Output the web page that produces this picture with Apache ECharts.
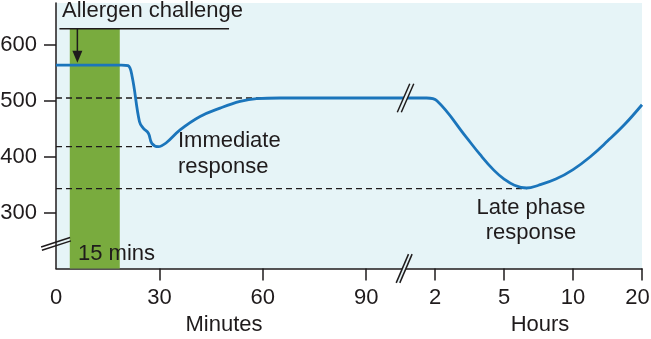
<!DOCTYPE html>
<html>
<head>
<meta charset="utf-8">
<script src="https://cdn.jsdelivr.net/npm/echarts@6/dist/echarts.min.js"></script>
<style>
  html, body { margin: 0; padding: 0; background: #ffffff; }
  #chart { width: 651px; height: 339px; }
</style>
</head>
<body>
<div id="chart"></div>
<script>
// Horizontal axis runs in one continuous unit: minutes 0-90, then the
// hours part after the break (2 h at 110, 5 h at 130, 10 h at 150, 20 h at 170).
const tickPositions = [0, 30, 60, 90, 110, 130, 150, 170];
const tickLabels = ['0', '30', '60', '90', '2', '5', '10', '20'];
const yTicks = [300, 400, 500, 600];

// Airway response curve
const curveX = [0, 10, 19, 20.9, 22.1, 24.2, 25.3, 26.8, 27.8, 29.7, 32, 36, 41.8, 47.6, 53.4, 58.2, 65, 80, 100, 107.5, 110.5, 119, 123, 127, 130, 133, 136.5, 140, 145, 150, 155, 160, 165, 170];
const curveY = [564, 564, 564, 563, 543, 463, 451, 442, 424, 418, 425, 448, 472, 487, 499, 504, 505, 505, 505, 505, 500, 435, 404, 376, 360, 349, 344, 349, 360, 377, 400, 428, 458, 493];

// Reference levels: baseline plateau, immediate minimum, late-phase minimum
const levelValues = [505, 418, 343];
const levelEnds = [100, 29.7, 136.5];

// 15-minute allergen challenge window (minutes)
const challengeStart = 4;
const challengeEnd = 18.5;
const challengeTop = 629;

const BG = '#e6f4f7';
const INK = '#1f1b1c';
const FONT = '"Liberation Sans", Arial, sans-serif';
const FS = 22;

const chart = echarts.init(document.getElementById('chart'), null, { renderer: 'canvas' });

const levelSeries = levelValues.map((v, i) => ({
  type: 'line',
  silent: true,
  symbol: 'none',
  z: 3,
  lineStyle: { color: INK, width: 1.3, type: [6, 4] },
  data: [[0, v], [levelEnds[i], v]]
}));

const lastTick = tickPositions[tickPositions.length - 1];

chart.setOption({
  animation: false,
  grid: {
    left: 56, right: 9, top: 3, bottom: 70.5,
    outerBoundsMode: 'none',
    containLabel: false,
    show: true, backgroundColor: BG, borderWidth: 0
  },
  xAxis: {
    type: 'value', min: 0, max: 170,
    splitLine: { show: false },
    axisLine: { show: true, lineStyle: { color: INK, width: 1.5 } },
    axisTick: { show: true, length: 12, lineStyle: { color: INK, width: 1.5 },
      customValues: tickPositions.slice(1) },
    axisLabel: {
      customValues: tickPositions,
      formatter: (v) => {
        const s = tickLabels[tickPositions.indexOf(v)] ?? '';
        return v === lastTick ? '{edge|' + s + '}' : s;
      },
      rich: { edge: { fontSize: FS, fontFamily: FONT, color: INK, padding: [0, 9, 0, 0] } },
      color: INK, fontSize: FS, fontFamily: FONT, margin: 18
    }
  },
  yAxis: {
    type: 'value', min: 200, max: 675,
    splitLine: { show: false },
    axisLine: { show: true, lineStyle: { color: INK, width: 1.5 } },
    axisTick: { show: true, length: 12, lineStyle: { color: INK, width: 1.5 }, customValues: yTicks },
    axisLabel: { customValues: yTicks, color: INK, fontSize: FS, fontFamily: FONT, margin: 19 }
  },
  series: [
    {
      type: 'line',
      silent: true,
      data: [],
      z: 1,
      markArea: {
        silent: true,
        itemStyle: { color: '#79ab3e' },
        data: [[{ coord: [challengeStart, 200] }, { coord: [challengeEnd, challengeTop] }]]
      }
    },
    ...levelSeries,
    {
      type: 'line',
      silent: true,
      symbol: 'none',
      smooth: 0.4,
      z: 5,
      lineStyle: { color: '#1b75bb', width: 2.8 },
      data: curveX.map((x, i) => [x, curveY[i]])
    }
  ]
});

// Annotations anchored to data coordinates
const px = (u, v) => chart.convertToPixel({ gridIndex: 0 }, [u, v]);

// Pair of parallel slashes centred on (cx, cy); (ox, oy) separates the two strokes
function breakMark(cx, cy, dx, dy, ox, oy, fillGap) {
  const els = [];
  const a1 = [cx - ox / 2 - dx / 2, cy - oy / 2 + dy / 2], b1 = [cx - ox / 2 + dx / 2, cy - oy / 2 - dy / 2];
  const a2 = [cx + ox / 2 - dx / 2, cy + oy / 2 + dy / 2], b2 = [cx + ox / 2 + dx / 2, cy + oy / 2 - dy / 2];
  if (fillGap) {
    els.push({ type: 'polygon', z: 20, shape: { points: [a1, b1, b2, a2] }, style: { fill: BG } });
  }
  els.push({ type: 'line', z: 21, shape: { x1: a1[0], y1: a1[1], x2: b1[0], y2: b1[1] }, style: { stroke: INK, lineWidth: 1.5 } });
  els.push({ type: 'line', z: 21, shape: { x1: a2[0], y1: a2[1], x2: b2[0], y2: b2[1] }, style: { stroke: INK, lineWidth: 1.5 } });
  return els;
}

const bracketL = px(1, challengeTop), bracketR = px(50.2, challengeTop);
const arrowTop = px(6.2, challengeTop), arrowTip = px(6.2, 568);
const axisBreak = px(101, 200);
const curveBreak = px(101.4, 505);
const yBreak = px(0, 244);

function text(str, x, y, align) {
  return { type: 'text', z: 30, style: { text: str, x: x, y: y, fill: INK, font: FS + 'px ' + FONT, textAlign: align || 'left', textVerticalAlign: 'middle' } };
}

chart.setOption({
  graphic: [
    { type: 'line', z: 22, shape: { x1: bracketL[0], y1: bracketL[1], x2: bracketR[0], y2: bracketR[1] }, style: { stroke: INK, lineWidth: 1.5 } },
    { type: 'line', z: 22, shape: { x1: arrowTop[0], y1: arrowTop[1], x2: arrowTip[0], y2: arrowTip[1] - 8 }, style: { stroke: INK, lineWidth: 1.5 } },
    { type: 'polygon', z: 22, shape: { points: [[arrowTip[0] - 5, arrowTip[1] - 12], [arrowTip[0] + 5, arrowTip[1] - 12], [arrowTip[0], arrowTip[1]]] }, style: { fill: INK } },
    ...breakMark(axisBreak[0], axisBreak[1], 12.3, 28.7, 3.6, 0, true),
    ...breakMark(curveBreak[0], curveBreak[1], 12.5, 28.5, 4, 0, true),
    ...breakMark(yBreak[0], yBreak[1], 29, 9.4, 0.8, 3.3, false),
    text('Allergen challenge', 62, 11),
    text('Immediate', 178, 141),
    text('response', 178, 166.6),
    text('Late phase', 531, 207.6, 'center'),
    text('response', 531, 232.6, 'center'),
    text('15 mins', 78, 253.6),
    text('Minutes', 224, 324.5, 'center'),
    text('Hours', 540, 324.5, 'center')
  ]
});
</script>
</body>
</html>
